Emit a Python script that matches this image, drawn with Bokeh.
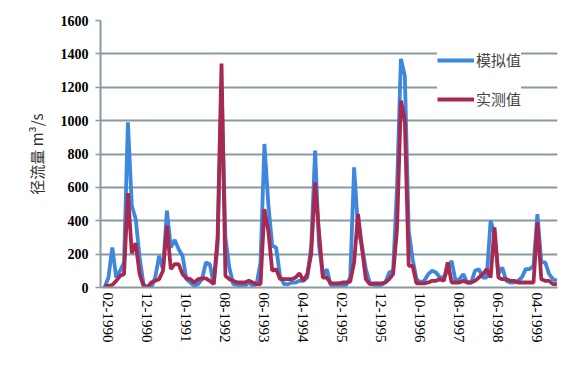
from bokeh.plotting import figure
from bokeh.models import (Range1d, FixedTicker, Legend, LegendItem, Label, ColumnDataSource)
from bokeh.embed import file_html
from bokeh.resources import INLINE

# ---- data (monthly, starting 01-1990) ----
start_year = 1990
n_months = 117
months = ["%02d-%d" % ((k % 12) + 1, start_year + k // 12) for k in range(n_months)]

simulated = [
    0, 60, 240, 60, 100, 150, 990, 490, 410, 180,
    20, 0, 0, 60, 190, 110, 460, 240, 285, 230,
    190, 50, 30, 10, 20, 50, 150, 140, 20, 250,
    1200, 300, 120, 20, 15, 10, 10, 30, 10, 20,
    150, 860, 500, 250, 240, 70, 20, 20, 30, 30,
    40, 40, 60, 250, 820, 250, 70, 110, 15, 15,
    15, 15, 15, 60, 720, 350, 250, 110, 30, 15,
    15, 15, 30, 90, 100, 600, 1370, 1270, 340, 170,
    50, 30, 40, 80, 100, 90, 60, 60, 100, 160,
    40, 50, 80, 30, 30, 100, 110, 60, 60, 400,
    320, 80, 120, 40, 30, 30, 40, 60, 110, 110,
    130, 440, 150, 150, 80, 50, 40,
]
observed = [
    10, 10, 15, 40, 70, 80, 566, 205, 265, 80,
    10, 0, 30, 40, 50, 100, 370, 110, 140, 140,
    80, 55, 50, 30, 50, 55, 55, 40, 20, 300,
    1342, 70, 50, 40, 30, 30, 30, 40, 30, 20,
    20, 470, 340, 100, 110, 50, 50, 50, 50, 60,
    85, 40, 80, 200, 630, 330, 60, 60, 25, 25,
    25, 30, 30, 35, 150, 440, 240, 50, 20, 25,
    25, 25, 30, 50, 80, 350, 1120, 1000, 130, 130,
    25, 25, 25, 30, 40, 40, 50, 40, 150, 30,
    30, 30, 40, 30, 30, 40, 60, 80, 110, 60,
    360, 60, 50, 50, 40, 40, 30, 30, 30, 30,
    30, 390, 50, 40, 40, 20, 20,
]
tick_labels = ["02-1990", "12-1990", "10-1991", "08-1992", "06-1993", "04-1994",
               "02-1995", "12-1995", "10-1996", "08-1997", "06-1998", "04-1999"]
y_ticks = [0, 200, 400, 600, 800, 1000, 1200, 1400, 1600]
series_names = ["模拟值", "实测值"]
x_title = "月/年"
y_title = "径流量 m³/s"

# ---- styling ----
BLUE = "#3E87DD"
RED = "#A8294F"
GRID = "#8899A1"
SERIF = "Liberation Serif"
CJK = "Noto Sans CJK SC"

src = ColumnDataSource(dict(x=list(range(n_months)), sim=simulated, obs=observed))

p = figure(width=574, height=374, output_backend="svg", toolbar_location=None,
           x_range=Range1d(-1.03, 116.15), y_range=Range1d(0, 1600),
           min_border_left=100, min_border_right=17, min_border_top=20, min_border_bottom=87)
p.outline_line_color = None
p.background_fill_color = "white"
p.border_fill_color = "white"

r1 = p.line("x", "sim", source=src, line_color=BLUE, line_width=3.8)
r2 = p.line("x", "obs", source=src, line_color=RED, line_width=3.8)

tick_pos = [months.index(t) for t in tick_labels]
p.xaxis.ticker = FixedTicker(ticks=tick_pos)
p.xaxis.major_label_overrides = {pos: lab for pos, lab in zip(tick_pos, tick_labels)}
p.xaxis.major_label_orientation = "vertical"
p.xaxis.major_label_text_font = SERIF
p.xaxis.major_label_text_font_size = "15px"
p.xaxis.major_label_text_color = "black"
p.xaxis.major_label_standoff = 5
p.xaxis.major_tick_out = 0
p.xaxis.major_tick_in = 0
p.xaxis.minor_tick_out = 0
p.xaxis.minor_tick_in = 0
p.xaxis.axis_line_color = GRID
p.xaxis.axis_line_width = 2

p.yaxis.ticker = FixedTicker(ticks=y_ticks)
p.yaxis.major_label_text_font = SERIF
p.yaxis.major_label_text_font_size = "14px"
p.yaxis.major_label_text_font_style = "bold"
p.yaxis.major_label_text_color = "black"
p.yaxis.major_label_standoff = 7
p.yaxis.major_tick_out = 5
p.yaxis.major_tick_in = 0
p.yaxis.major_tick_line_color = GRID
p.yaxis.major_tick_line_width = 1.5
p.yaxis.minor_tick_out = 0
p.yaxis.minor_tick_in = 0
p.yaxis.axis_line_color = GRID
p.yaxis.axis_line_width = 2
p.yaxis.axis_label = y_title
p.yaxis.axis_label_text_font = CJK
p.yaxis.axis_label_text_font_size = "15px"
p.yaxis.axis_label_text_font_style = "normal"
p.yaxis.axis_label_text_color = "#333333"
p.yaxis.axis_label_standoff = 11

p.xgrid.grid_line_color = None
p.ygrid.grid_line_color = GRID
p.ygrid.grid_line_width = 2

xl = Label(x=49.5, y=-456, text=x_title, text_font=CJK, text_font_size="15px",
           text_align="center", text_baseline="middle", text_color="black")
p.add_layout(xl)

legend = Legend(items=[LegendItem(label=series_names[0], renderers=[r1]),
                       LegendItem(label=series_names[1], renderers=[r2])],
                location=(337, 178), orientation="vertical",
                glyph_width=37, glyph_height=20, label_height=20, spacing=18,
                padding=10, margin=0, label_standoff=2,
                label_text_font=CJK, label_text_font_size="15px",
                border_line_color=None, background_fill_color="white",
                background_fill_alpha=1.0)
p.add_layout(legend)

open("out.html", "w").write(file_html(p, INLINE))
